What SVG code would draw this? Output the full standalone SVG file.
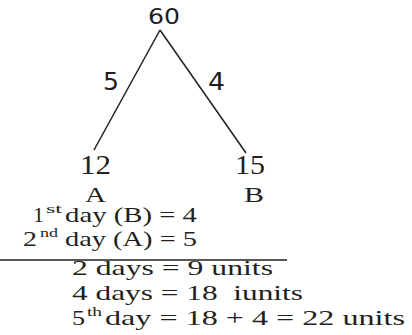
<svg xmlns="http://www.w3.org/2000/svg" width="412" height="335" viewBox="0 0 412 335">
<style>
.t{font-family:"Liberation Serif",serif;fill:#231f20;}
.s{font-family:"DejaVu Sans","Liberation Sans",sans-serif;fill:#231f20;}
.e{stroke:#231f20;stroke-width:1.5;fill:none;}
</style>
<rect width="412" height="335" fill="#ffffff"/>
<g id="connectors">
<line class="e" x1="160" y1="30" x2="94" y2="150"/>
<line class="e" x1="160" y1="30" x2="246" y2="153"/>
<text class="s" x="103" y="90" font-size="24" textLength="16" lengthAdjust="spacingAndGlyphs">5</text>
<text class="s" x="208" y="90" font-size="24" textLength="17" lengthAdjust="spacingAndGlyphs">4</text>
</g>
<g id="node-top">
<text class="s" x="148" y="24" font-size="22" textLength="32" lengthAdjust="spacingAndGlyphs">60</text>
</g>
<g id="node-A">
<text class="t" x="80" y="174" font-size="28" textLength="31" lengthAdjust="spacingAndGlyphs">12</text>
<text class="t" x="85" y="202" font-size="22" textLength="21" lengthAdjust="spacingAndGlyphs">A</text>
</g>
<g id="node-B">
<text class="t" x="235" y="174" font-size="28" textLength="30" lengthAdjust="spacingAndGlyphs">15</text>
<text class="t" x="244" y="202" font-size="22" textLength="20" lengthAdjust="spacingAndGlyphs">B</text>
</g>
<g id="calc">
<text class="t" x="33" y="222" font-size="22" textLength="11" lengthAdjust="spacingAndGlyphs">1</text>
<text class="t" x="46" y="213" font-size="12" textLength="16" lengthAdjust="spacingAndGlyphs">st</text>
<text class="t" x="65" y="222" font-size="22" textLength="132" lengthAdjust="spacingAndGlyphs">day (B) = 4</text>
<text class="t" x="23" y="246" font-size="22" textLength="14" lengthAdjust="spacingAndGlyphs">2</text>
<text class="t" x="40" y="237" font-size="12" textLength="18" lengthAdjust="spacingAndGlyphs">nd</text>
<text class="t" x="65" y="246" font-size="22" textLength="132" lengthAdjust="spacingAndGlyphs">day (A) = 5</text>
<line class="e" x1="0" y1="260" x2="287" y2="260"/>
<text class="t" x="72" y="275" font-size="22" textLength="201" lengthAdjust="spacingAndGlyphs">2 days = 9 units</text>
<text class="t" x="72" y="300" font-size="22" textLength="231" lengthAdjust="spacingAndGlyphs" xml:space="preserve">4 days = 18  iunits</text>
<text class="t" x="72" y="325" font-size="22" textLength="13" lengthAdjust="spacingAndGlyphs">5</text>
<text class="t" x="87" y="316" font-size="12" textLength="15" lengthAdjust="spacingAndGlyphs">th</text>
<text class="t" x="105" y="325" font-size="22" textLength="300" lengthAdjust="spacingAndGlyphs">day = 18 + 4 = 22 units</text>
</g>
</svg>
